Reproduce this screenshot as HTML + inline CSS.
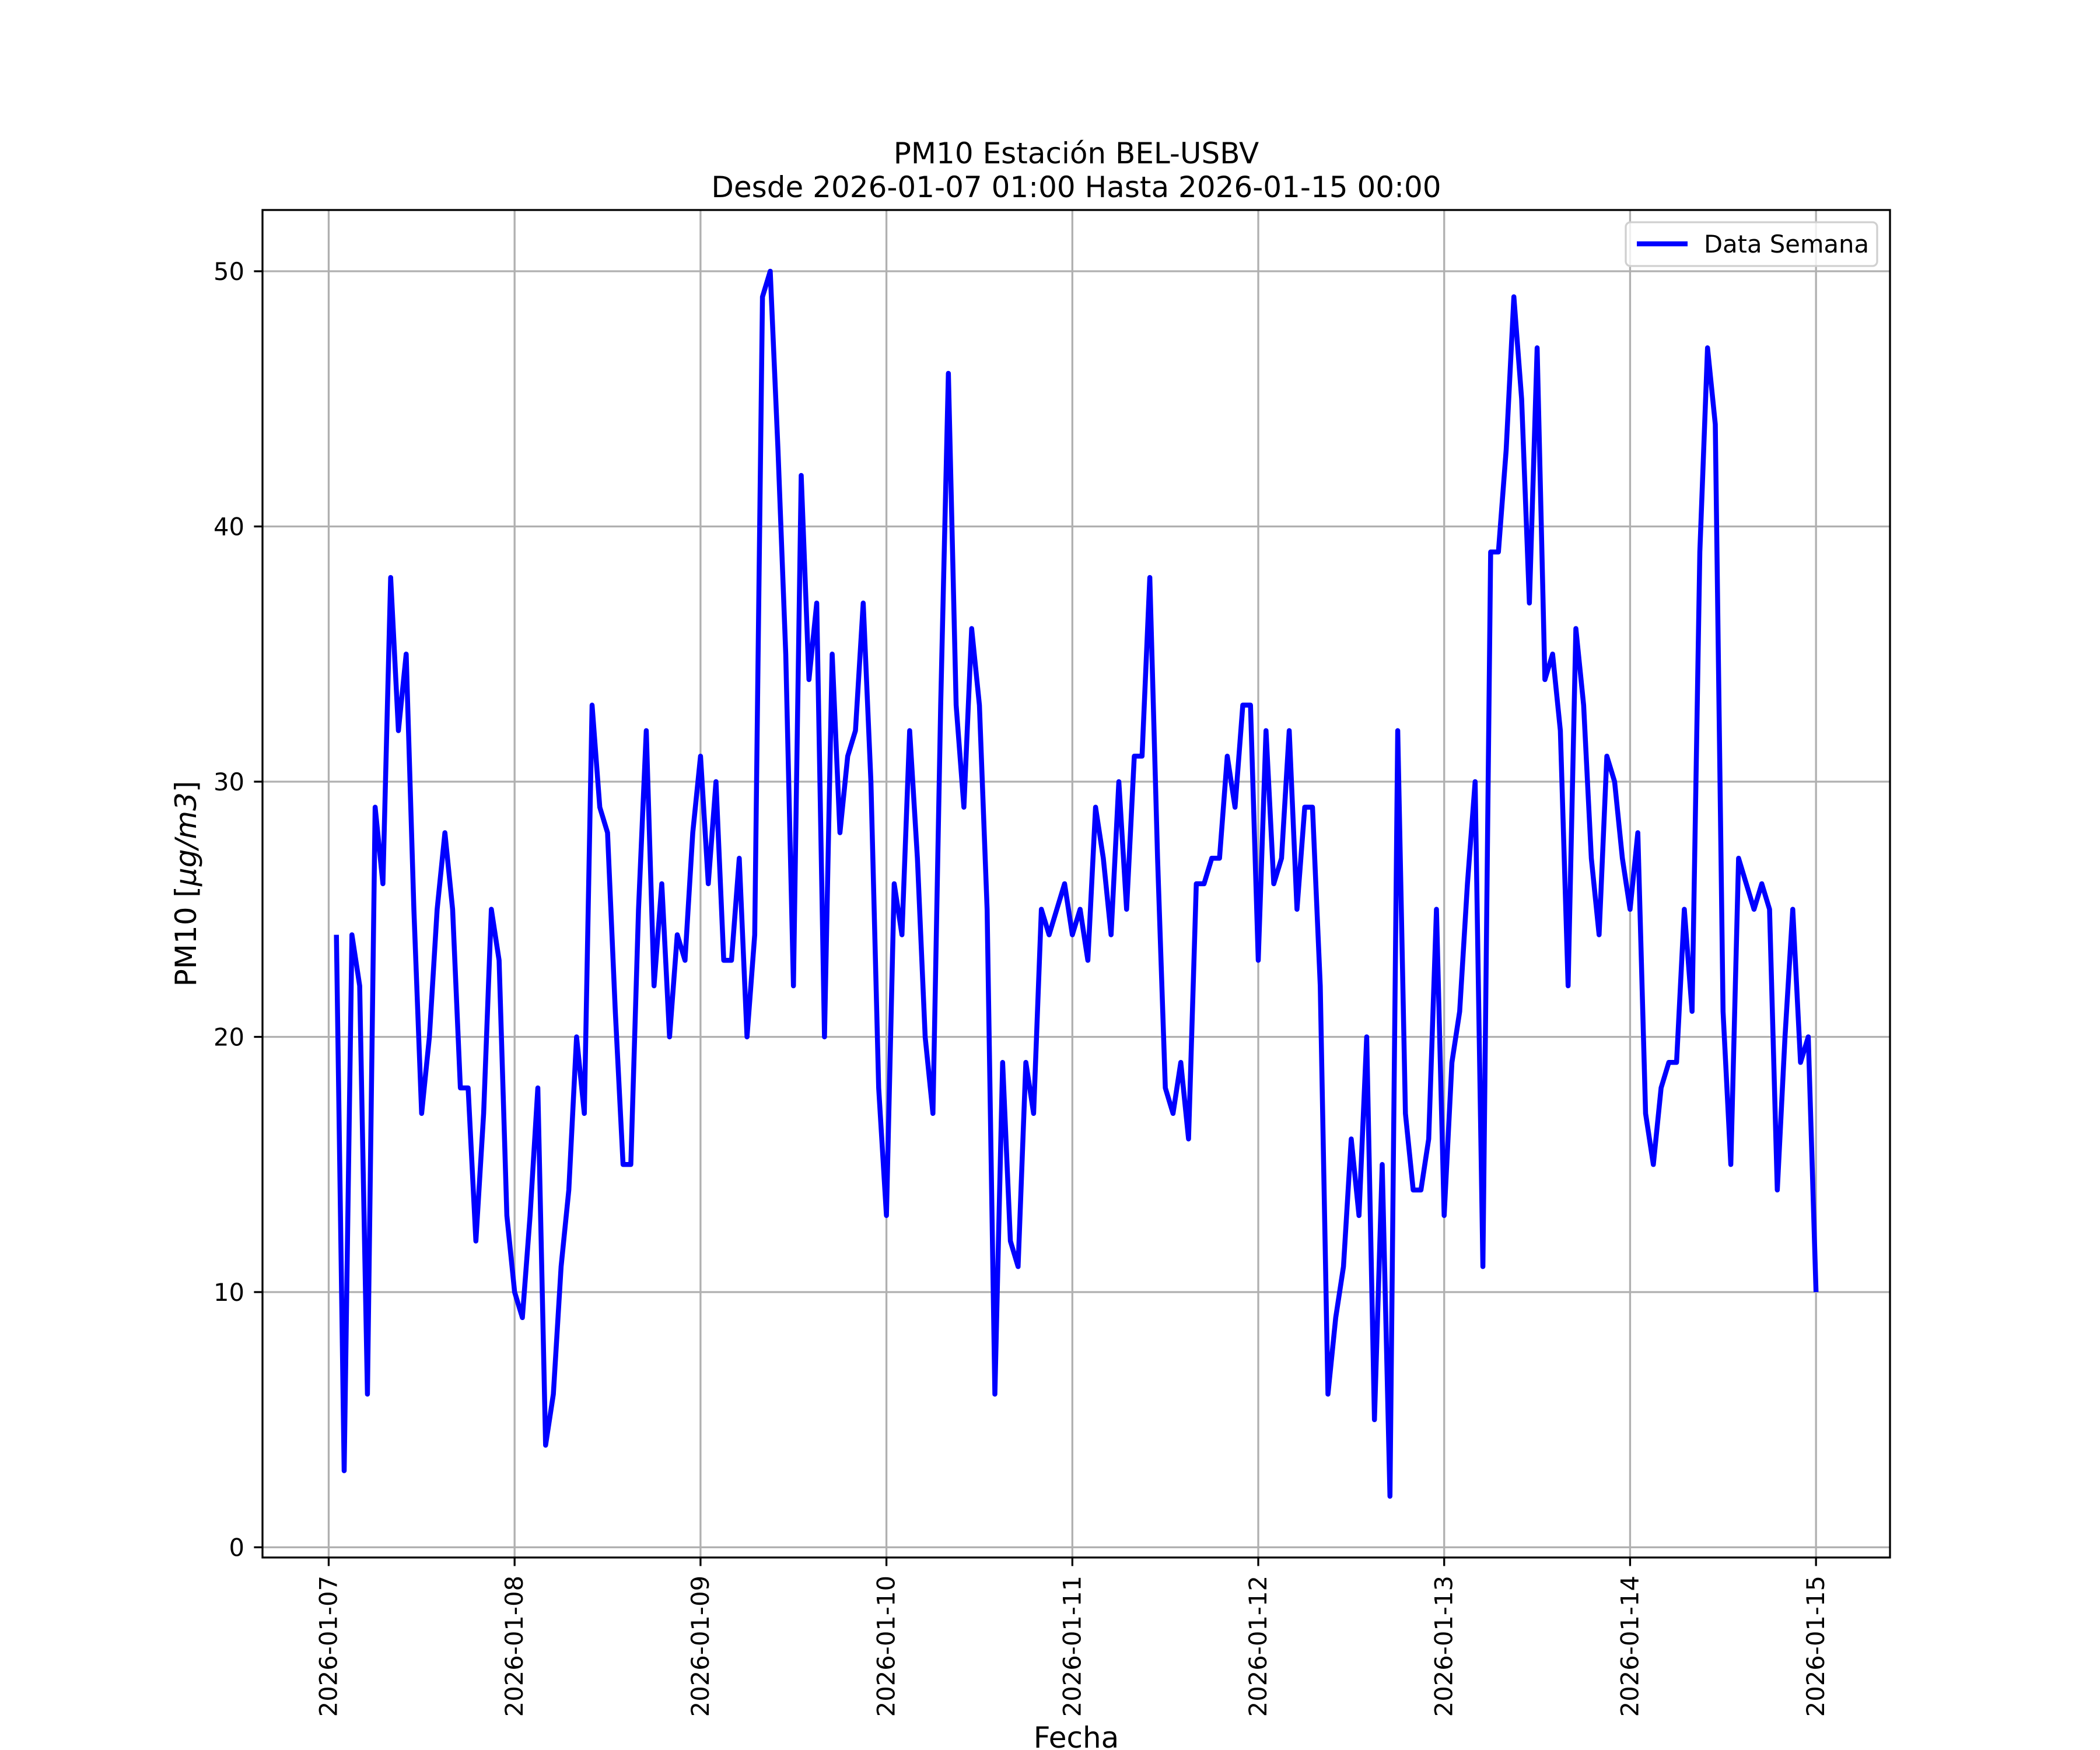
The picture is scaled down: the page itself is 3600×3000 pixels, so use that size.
<!DOCTYPE html>
<html><head><meta charset="utf-8">
<style>
html,body{margin:0;padding:0;background:#fff;}
svg{display:block;font-family:"DejaVu Sans","Liberation Sans",sans-serif;}
</style></head>
<body>
<svg id="chart" xmlns="http://www.w3.org/2000/svg" width="3600" height="3000" viewBox="0 0 3600 3000">
<rect x="0" y="0" width="3600" height="3000" fill="#fff"/>
<g id="grid"></g>
<g id="series"></g>
<rect x="450" y="360" width="2790" height="2310" fill="none" stroke="#000" stroke-width="3.3"/>
<g id="ticks"></g>
<text x="1845" y="280" text-anchor="middle" font-size="50">PM10 Estación BEL-USBV</text>
<text x="1845" y="338" text-anchor="middle" font-size="50">Desde 2026-01-07 01:00 Hasta 2026-01-15 00:00</text>
<text x="1845" y="2996" text-anchor="middle" font-size="50">Fecha</text>
<text transform="translate(336,1515) rotate(-90)" text-anchor="middle" font-size="50">PM10 [<tspan font-style="italic">μg</tspan><tspan font-style="italic">/m3</tspan>]</text>
<g>
<rect x="2787" y="381" width="431" height="75" rx="8" fill="#fff" fill-opacity="0.8" stroke="#d0d0d0" stroke-width="3.3"/>
<line x1="2806" y1="418" x2="2893" y2="418" stroke="#0000ff" stroke-width="8.5"/>
<text x="2921" y="433" font-size="41.7">Data Semana</text>
</g>
</svg>
<script>
const dayLabels = ["2026-01-07","2026-01-08","2026-01-09","2026-01-10","2026-01-11","2026-01-12","2026-01-13","2026-01-14","2026-01-15"];
const yTicks = [0,10,20,30,40,50];
const hoursSinceStart = Array.from({length:192},(_,i)=>i+1);
const pm10Day1 = [24,3,24,22,6,29,26,38,32,35,25,17,20,25,28,25,18,18,12,17,25,23,13,10];
const pm10Day2 = [9,13,18,4,6,11,14,20,17,33,29,28,21,15,15,25,32,22,26,20,24,23,28,31];
const pm10Day3 = [26,30,23,23,27,20,24,49,50,43,35,22,42,34,37,20,35,28,31,32,37,30,18,13];
const pm10Day4 = [26,24,32,27,20,17,33,46,33,29,36,33,25,6,19,12,11,19,17,25,24,25,26,24];
const pm10Day5 = [25,23,29,27,24,30,25,31,31,38,27,18,17,19,16,26,26,27,27,31,29,33,33,23];
const pm10Day6 = [32,26,27,32,25,29,29,22,6,9,11,16,13,20,5,15,2,32,17,14,14,16,25,13];
const pm10Day7 = [19,21,26,30,11,39,39,43,49,45,37,47,34,35,32,22,36,33,27,24,31,30,27,25];
const pm10Day8 = [28,17,15,18,19,19,25,21,39,47,44,21,15,27,26,25,26,25,14,20,25,19,20,10];
const pm10Values = [].concat(pm10Day1,pm10Day2,pm10Day3,pm10Day4,pm10Day5,pm10Day6,pm10Day7,pm10Day8);

const NS = "http://www.w3.org/2000/svg";
const AX = {l:450, r:3240, t:360, b:2670};
const xMinDay = -0.356, xMaxDay = 8.398, yMin = -0.4, yMax = 52.4;
function xDay(d){ return AX.l + (d - xMinDay)/(xMaxDay - xMinDay)*(AX.r-AX.l); }
function yVal(v){ return AX.b - (v - yMin)/(yMax - yMin)*(AX.b-AX.t); }
function mk(tag, attrs, parent){ const e=document.createElementNS(NS,tag); for(const k in attrs) e.setAttribute(k,attrs[k]); parent.appendChild(e); return e; }

const grid = document.getElementById('grid');
const ticks = document.getElementById('ticks');
dayLabels.forEach((lab,i)=>{
  const x = xDay(i);
  const g = mk('line',{x1:x,y1:AX.t,x2:x,y2:AX.b,stroke:'#b0b0b0','stroke-width':3.3},grid);
  
  
  const t = mk('line',{x1:x,y1:AX.b,x2:x,y2:AX.b+14.6,stroke:'#000','stroke-width':3.3},ticks);
  
  
  const tx = mk('text',{transform:`translate(${x+14},${AX.b+31}) rotate(-90)`,'text-anchor':'end','font-size':41.7},ticks);
  tx.textContent = lab;
  
  
});
yTicks.forEach(v=>{
  const y = yVal(v);
  const g = mk('line',{x1:AX.l,y1:y,x2:AX.r,y2:y,stroke:'#b0b0b0','stroke-width':3.3},grid);
  
  
  const t = mk('line',{x1:AX.l-14.6,y1:y,x2:AX.l,y2:y,stroke:'#000','stroke-width':3.3},ticks);
  
  
  const tx = mk('text',{x:AX.l-31,y:y+15,'text-anchor':'end','font-size':41.7},ticks);
  tx.textContent = String(v);
  
  
});
const pts = pm10Values.map((v,i)=> xDay(hoursSinceStart[i]/24).toFixed(1)+','+yVal(v).toFixed(1)).join(' ');
const line = mk('polyline',{points:pts,fill:'none',stroke:'#0000ff','stroke-width':8.5,'stroke-linejoin':'round','stroke-linecap':'butt'},document.getElementById('series'));


</script>
</body></html>
